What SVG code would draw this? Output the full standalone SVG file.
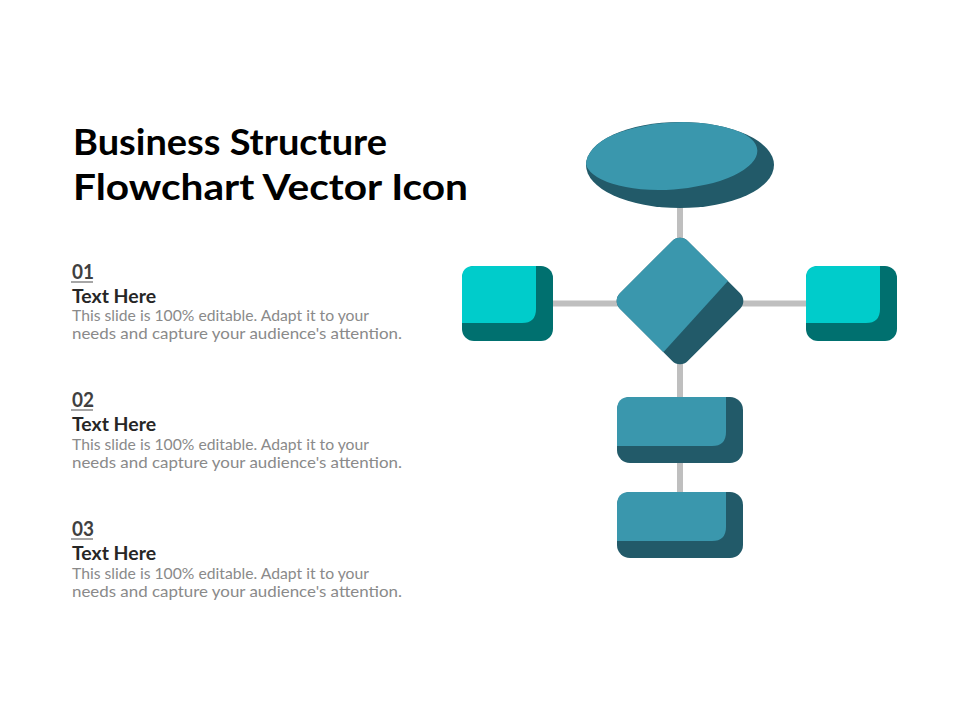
<svg xmlns="http://www.w3.org/2000/svg" width="960" height="720" viewBox="0 0 960 720">
<style>
text{font-family:"Lato","Liberation Sans",sans-serif}
.t{font-size:36px;font-weight:700;fill:#000}
.n{font-size:20px;font-weight:700;fill:#404040}
.h{font-size:18px;font-weight:700;fill:#262626}
.b{font-size:15px;fill:#8a8a8a}
.c{stroke:#bfbfbf;stroke-width:6;fill:none}
.u{stroke:#a6a6a6;stroke-width:2}
.dk{fill:#225a69}.fr{fill:#3a97ad}.dk2{fill:#00706f}.fr2{fill:#00cccb}
</style>
<defs>
<clipPath id="ellipse-clip"><ellipse cx="680" cy="165" rx="94" ry="43"/></clipPath>
<clipPath id="diamond-clip"><path d="M600 220H770L727.500 281.500L664 351.500L600 380Z"/></clipPath>
</defs>
<rect width="960" height="720" fill="#fff"/>
<g id="title">
<text class="t" x="73" y="155" textLength="314" lengthAdjust="spacingAndGlyphs">Business Structure</text>
<text class="t" x="73" y="200" textLength="395" lengthAdjust="spacingAndGlyphs">Flowchart Vector Icon</text>
</g>
<g id="item1">
<text class="n" x="72" y="279" textLength="22" lengthAdjust="spacingAndGlyphs">01</text><line class="u" x1="71" y1="282" x2="93" y2="282"/>
<text class="h" x="72" y="303" textLength="84" lengthAdjust="spacingAndGlyphs">Text Here</text>
<text class="b" x="72" y="321" textLength="297" lengthAdjust="spacingAndGlyphs">This slide is 100% editable. Adapt it to your</text>
<text class="b" x="72" y="339" textLength="330" lengthAdjust="spacingAndGlyphs">needs and capture your audience's attention.</text>
</g>
<g id="item2">
<text class="n" x="72" y="407" textLength="22" lengthAdjust="spacingAndGlyphs">02</text><line class="u" x1="71" y1="410" x2="93" y2="410"/>
<text class="h" x="72" y="431" textLength="84" lengthAdjust="spacingAndGlyphs">Text Here</text>
<text class="b" x="72" y="450" textLength="297" lengthAdjust="spacingAndGlyphs">This slide is 100% editable. Adapt it to your</text>
<text class="b" x="72" y="468" textLength="330" lengthAdjust="spacingAndGlyphs">needs and capture your audience's attention.</text>
</g>
<g id="item3">
<text class="n" x="72" y="536" textLength="22" lengthAdjust="spacingAndGlyphs">03</text><line class="u" x1="71" y1="539" x2="93" y2="539"/>
<text class="h" x="72" y="560" textLength="84" lengthAdjust="spacingAndGlyphs">Text Here</text>
<text class="b" x="72" y="579" textLength="297" lengthAdjust="spacingAndGlyphs">This slide is 100% editable. Adapt it to your</text>
<text class="b" x="72" y="597" textLength="330" lengthAdjust="spacingAndGlyphs">needs and capture your audience's attention.</text>
</g>
<g id="connectors">
<line class="c" x1="680" y1="200" x2="680" y2="500"/>
<line class="c" x1="545" y1="303.500" x2="815" y2="303.500"/>
</g>
<g id="ellipse-node">
<ellipse class="dk" cx="680" cy="165" rx="94" ry="43"/>
<g clip-path="url(#ellipse-clip)"><ellipse class="fr" cx="671.500" cy="156" rx="86" ry="33.500" transform="rotate(-4 671.500 156)"/></g>
</g>
<g id="diamond-node">
<rect class="dk" x="632" y="253" width="96" height="96" rx="11" transform="rotate(45 680 301)"/>
<g clip-path="url(#diamond-clip)"><rect class="fr" x="632" y="253" width="96" height="96" rx="11" transform="rotate(45 680 301)"/></g>
</g>
<g id="left-node">
<rect class="dk2" x="462" y="266" width="91" height="75" rx="12"/>
<path class="fr2" d="M474 266H536V309Q536 323 522 323H462V278Q462 266 474 266Z"/>
</g>
<g id="right-node">
<rect class="dk2" x="806" y="266" width="91" height="75" rx="12"/>
<path class="fr2" d="M818 266H880V309Q880 323 866 323H806V278Q806 266 818 266Z"/>
</g>
<g id="box-1">
<rect class="dk" x="617" y="397" width="126" height="66" rx="13"/>
<path class="fr" d="M630 397H726V432Q726 446 712 446H617V410Q617 397 630 397Z"/>
</g>
<g id="box-2">
<rect class="dk" x="617" y="492" width="126" height="66" rx="13"/>
<path class="fr" d="M630 492H726V527Q726 541 712 541H617V505Q617 492 630 492Z"/>
</g>
</svg>
